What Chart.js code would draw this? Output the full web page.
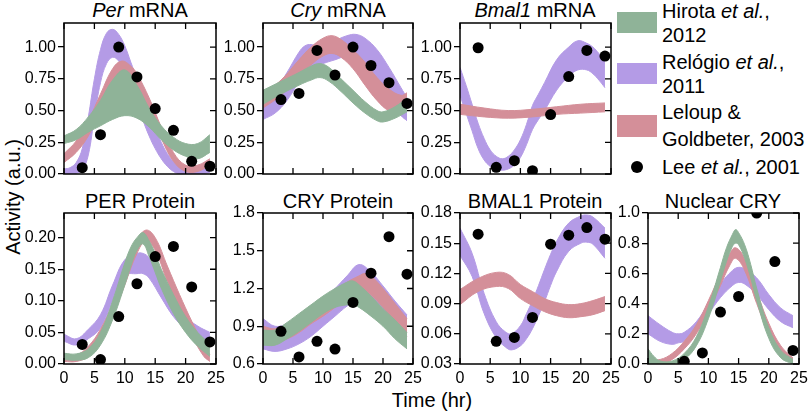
<!DOCTYPE html>
<html>
<head>
<meta charset="utf-8">
<title>Clock model comparison</title>
<script src="https://cdn.jsdelivr.net/npm/chart.js"></script>
<style>
  body { margin: 0; background: #fff; font-family: "Liberation Sans", Arial, sans-serif; }
  #fig { position: relative; width: 810px; height: 413px; overflow: hidden; background: #fff; }
  #fig canvas { position: absolute; }
  .txt { position: absolute; font-size: 20px; line-height: 20px; white-space: nowrap; color: #000; }
  .title { transform: translateX(-50%); }
  .swatch { position: absolute; left: 617px; width: 40px; }
  .dot { position: absolute; width: 12px; height: 12px; border-radius: 50%; background: #000; }
</style>
</head>
<body>
<div id="fig">
  <div class="txt title" style="left:140px;top:0px"><i>Per</i> mRNA</div>
  <div class="txt title" style="left:338px;top:0px"><i>Cry</i> mRNA</div>
  <div class="txt title" style="left:535px;top:0px"><i>Bmal1</i> mRNA</div>
  <div class="txt title" style="left:140px;top:191px">PER Protein</div>
  <div class="txt title" style="left:338px;top:191px">CRY Protein</div>
  <div class="txt title" style="left:535px;top:191px">BMAL1 Protein</div>
  <div class="txt title" style="left:723px;top:191px">Nuclear CRY</div>

  <div class="swatch" style="top:12px;height:21px;background:#8fb398"></div>
  <div class="swatch" style="top:63px;height:21px;background:#b49be6"></div>
  <div class="swatch" style="top:115px;height:22px;background:#d48f99"></div>
  <div class="dot" style="left:631px;top:161px"></div>
  <div class="txt" style="left:662px;top:1px">Hirota <i>et al.</i>,</div>
  <div class="txt" style="left:662px;top:25px">2012</div>
  <div class="txt" style="left:662px;top:52px">Relógio <i>et al.</i>,</div>
  <div class="txt" style="left:662px;top:76px">2011</div>
  <div class="txt" style="left:662px;top:102px">Leloup &amp;</div>
  <div class="txt" style="left:662px;top:129px">Goldbeter, 2003</div>
  <div class="txt" style="left:662px;top:157px">Lee <i>et al.</i>, 2001</div>

  <div class="txt" style="left:13px;top:197px;transform:translate(-50%,-50%) rotate(-90deg)">Activity (a.u.)</div>
  <div class="txt title" style="left:432px;top:390px">Time (hr)</div>
</div>

<script>
// sampling times of the measured points (hr)
const hours = [3, 6, 9, 12, 15, 18, 21, 24];
const xTicks = [0, 5, 10, 15, 20, 25];

// Lee et al. 2001 measurements
const perMrnaDots = [0.05, 0.31, 1.0, 0.765, 0.516, 0.344, 0.10, 0.061];
const cryMrnaDots = [0.587, 0.635, 0.974, 0.78, 1.0, 0.855, 0.72, 0.556];
const bmalMrnaDots = [0.995, 0.053, 0.105, 0.026, 0.468, 0.768, 0.974, 0.929];
const perProtDots = [0.031, 0.007, 0.075, 0.127, 0.17, 0.186, 0.122, 0.035];
const cryProtDots = [0.86, 0.656, 0.78, 0.719, 1.089, 1.322, 1.612, 1.314];
const bmalProtDots = [0.159, 0.0525, 0.0564, 0.0763, 0.149, 0.158, 0.1655, 0.154];
const ncryDots = [null, 0.018, 0.073, 0.344, 0.447, 1.0, 0.678, 0.09];

// model bands: [time, lower, upper]
const perMrnaHirota = [[0,.24,.30],[2,.27,.35],[4,.33,.45],[6,.38,.58],[8,.43,.74],[10,.46,.82],[12,.44,.70],[14,.37,.52],[16,.27,.38],[18,.19,.29],[20,.14,.24],[22,.12,.24],[24,.17,.31]];
const perMrnaRelogio = [[0,0,.04],[1,0,.05],[2,.005,.09],[3,.03,.2],[4,.15,.45],[5,.45,.75],[6,.72,.98],[7,.87,1.11],[8,.92,1.14],[9,.89,1.1],[10,.8,1.01],[11,.68,.88],[12,.55,.75],[13,.42,.61],[14,.3,.48],[15,.2,.36],[16,.12,.25],[17,.06,.16],[18,.02,.1],[19,0,.06],[20,0,.04],[22,0,.04],[24,.01,.07]];
const perMrnaLeloup = [[0,.09,.16],[2,.17,.26],[4,.3,.42],[6,.5,.63],[8,.72,.83],[9.5,.8,.89],[11,.76,.85],[12,.69,.79],[14,.5,.6],[16,.28,.37],[18,.1,.17],[20,.02,.07],[22,.02,.07],[24,.07,.12]];

const cryMrnaHirota = [[0,.55,.66],[3,.63,.73],[6,.7,.8],[8,.74,.85],[9.5,.76,.87],[11,.73,.84],[13,.65,.75],[15,.56,.66],[17,.48,.57],[19,.42,.5],[20,.41,.49],[22,.44,.53],[24,.49,.6]];
const cryMrnaRelogio = [[0,.43,.6],[2,.48,.66],[4,.58,.8],[6,.73,.96],[7,.8,1.01],[8,.83,1.02],[10,.87,1.0],[12,.9,1.05],[14,.93,1.09],[15.5,.92,1.1],[17,.85,1.07],[19,.72,.98],[21,.58,.84],[23,.46,.68],[24,.42,.6]];
const cryMrnaLeloup = [[0,.52,.63],[3,.62,.74],[6,.77,.9],[8,.86,1.0],[10,.93,1.07],[11.5,.95,1.09],[13,.92,1.06],[15,.83,.98],[17,.7,.88],[19,.58,.76],[21,.5,.67],[23,.5,.62],[24,.52,.64]];

const bmalMrnaRelogio = [[0,.62,.84],[1,.48,.7],[2,.34,.55],[3,.2,.4],[4,.11,.28],[5,.06,.19],[6,.035,.14],[7,.03,.12],[8,.04,.14],[9,.07,.19],[10,.13,.27],[11,.23,.39],[12,.35,.54],[13,.43,.63],[14,.5,.72],[16,.66,.9],[18,.77,1.0],[19.5,.82,1.05],[21,.82,1.03],[22,.79,1.0],[23,.74,.95],[24,.68,.9]];
const bmalMrnaLeloup = [[0,.47,.55],[4,.45,.52],[8,.44,.5],[12,.45,.51],[16,.47,.53],[20,.48,.55],[24,.49,.56]];

const perProtHirota = [[0,.007,.017],[2,.006,.016],[4,.01,.024],[6,.03,.05],[8,.07,.1],[10,.125,.16],[11,.155,.185],[12,.18,.2],[13,.19,.208],[14,.17,.195],[15,.145,.175],[16,.12,.15],[18,.08,.11],[20,.05,.075],[22,.028,.05],[24,.012,.032]];
const perProtRelogio = [[0,.036,.047],[2,.03,.04],[4,.04,.055],[6,.057,.078],[8,.1,.125],[10,.14,.165],[12,.143,.175],[13,.143,.175],[14,.136,.168],[16,.105,.135],[18,.075,.1],[20,.055,.075],[22,.04,.06],[24,.032,.05]];
const perProtLeloup = [[0,.004,.014],[2,.004,.014],[4,.012,.028],[6,.035,.055],[8,.075,.095],[10,.125,.145],[12,.175,.195],[13.5,.195,.212],[15,.18,.2],[17,.13,.155],[19,.085,.11],[21,.045,.068],[23,.012,.03],[24,.004,.015]];

const cryProtHirota = [[0,.75,.87],[2,.75,.87],[4,.8,.93],[6,.86,1.0],[8,.93,1.07],[10,1.0,1.14],[12,1.05,1.2],[14,1.07,1.25],[15,1.07,1.26],[16,1.05,1.23],[18,.98,1.14],[20,.9,1.04],[22,.8,.95],[24,.72,.85]];
const cryProtRelogio = [[0,.72,.96],[2,.7,.9],[4,.72,.92],[6,.76,.98],[8,.82,1.05],[10,.9,1.12],[12,.98,1.2],[14,1.06,1.3],[16,1.12,1.39],[18,1.08,1.33],[20,1.0,1.22],[22,.92,1.1],[24,.84,.99]];
const cryProtLeloup = [[0,.8,.9],[2,.78,.88],[4,.8,.92],[6,.85,.97],[8,.92,1.04],[10,.98,1.1],[12,1.05,1.18],[14,1.12,1.25],[16,1.17,1.3],[17,1.18,1.32],[18,1.15,1.3],[20,1.05,1.2],[22,.93,1.08],[24,.82,.96]];

const bmalProtRelogio = [[0,.138,.165],[2,.117,.14],[4,.08,.1],[6,.056,.072],[7.5,.047,.062],[8.5,.044,.06],[10,.048,.068],[11,.055,.08],[12,.065,.093],[13,.078,.108],[14,.092,.124],[15,.108,.139],[16,.122,.152],[18,.142,.17],[20,.15,.177],[21,.151,.178],[22,.149,.176],[24,.135,.165]];
const bmalProtLeloup = [[0,.089,.104],[3,.102,.115],[6,.107,.121],[8,.105,.119],[10,.095,.109],[12,.088,.102],[14,.082,.095],[16,.078,.091],[18,.076,.089],[20,.077,.09],[22,.079,.093],[24,.083,.097]];

const ncryHirota = [[0,0,.1],[1,0,.05],[2,0,.02],[4,0,.02],[6,.03,.07],[8,.12,.18],[10,.3,.38],[12,.55,.64],[13,.68,.77],[14,.78,.86],[14.5,.8,.89],[15,.79,.87],[16,.7,.79],[17,.57,.66],[18,.42,.5],[20,.17,.24],[22,.04,.09],[24,0,.03]];
const ncryRelogio = [[0,.2,.32],[2,.15,.26],[4,.13,.21],[5,.14,.2],[6,.15,.21],[8,.22,.28],[10,.33,.4],[12,.44,.53],[14,.52,.62],[15,.54,.64],[16,.53,.63],[18,.46,.57],[20,.36,.46],[22,.28,.37],[24,.24,.32]];
const ncryLeloup = [[0,0,.03],[2,0,.03],[4,.03,.07],[6,.1,.15],[8,.2,.26],[10,.35,.42],[12,.52,.6],[13.5,.65,.73],[14.5,.7,.77],[16,.62,.7],[18,.4,.48],[20,.2,.27],[22,.06,.12],[24,0,.04]];

// y tick values per panel
const mrnaTicks = [0, 0.25, 0.5, 0.75, 1.0];
const perProtTicks = [0, 0.05, 0.1, 0.15, 0.2];
const cryProtTicks = [0.6, 0.9, 1.2, 1.5, 1.8];
const bmalProtTicks = [0.03, 0.06, 0.09, 0.12, 0.15, 0.18];
const ncryTicks = [0, 0.2, 0.4, 0.6, 0.8, 1.0];

const GREEN = '#8fb398', PURPLE = '#b49be6', PINK = '#d48f99';

// plot-area boxes (px) of the 2x4 grid
const colL = [64, 263, 460, 648], colR = [216, 413, 611, 799];
const rowT = [23, 213], rowB = [174, 364];
const YW = 60, XH = 30, PT = 12, PR = 14;

const panels = [
  { col: 0, row: 0, ymin: 0, ymax: 1.19, ticks: mrnaTicks, dec: 2, dots: perMrnaDots, green: perMrnaHirota, pink: perMrnaLeloup, purple: perMrnaRelogio },
  { col: 1, row: 0, ymin: 0, ymax: 1.19, ticks: mrnaTicks, dec: 2, dots: cryMrnaDots, green: cryMrnaHirota, pink: cryMrnaLeloup, purple: cryMrnaRelogio },
  { col: 2, row: 0, ymin: 0, ymax: 1.19, ticks: mrnaTicks, dec: 2, dots: bmalMrnaDots, green: null, pink: bmalMrnaLeloup, purple: bmalMrnaRelogio },
  { col: 0, row: 1, ymin: 0, ymax: 0.239, ticks: perProtTicks, dec: 2, dots: perProtDots, green: perProtHirota, pink: perProtLeloup, purple: perProtRelogio },
  { col: 1, row: 1, ymin: 0.6, ymax: 1.8, ticks: cryProtTicks, dec: 1, dots: cryProtDots, green: cryProtHirota, pink: cryProtLeloup, purple: cryProtRelogio },
  { col: 2, row: 1, ymin: 0.03, ymax: 0.18, ticks: bmalProtTicks, dec: 2, dots: bmalProtDots, green: null, pink: bmalProtLeloup, purple: bmalProtRelogio },
  { col: 3, row: 1, ymin: 0, ymax: 1.0, ticks: ncryTicks, dec: 1, dots: ncryDots, green: ncryHirota, pink: ncryLeloup, purple: ncryRelogio }
];

// box around the axes plus inward ticks on top, bottom and right
const framePlugin = {
  id: 'frame',
  afterDatasetsDraw(chart) {
    const { ctx, chartArea: a, scales } = chart;
    const tl = 6;
    ctx.save();
    ctx.strokeStyle = '#000';
    ctx.lineWidth = 1.3;
    ctx.beginPath();
    scales.x.ticks.forEach(t => {
      const px = scales.x.getPixelForValue(t.value);
      ctx.moveTo(px, a.top); ctx.lineTo(px, a.top + tl);
      ctx.moveTo(px, a.bottom); ctx.lineTo(px, a.bottom - tl);
    });
    scales.y.ticks.forEach(t => {
      const py = scales.y.getPixelForValue(t.value);
      ctx.moveTo(a.right, py); ctx.lineTo(a.right - tl, py);
    });
    ctx.stroke();
    ctx.lineWidth = 1.5;
    ctx.strokeRect(a.left, a.top, a.right - a.left, a.bottom - a.top);
    ctx.restore();
  }
};

Chart.defaults.font.family = '"Liberation Sans", Arial, sans-serif';
Chart.defaults.color = '#000';

function bandSets(band, color, order) {
  if (!band) return [];
  const common = { borderColor: color, borderWidth: 1, pointRadius: 0, pointHoverRadius: 0, tension: 0.4, order: order };
  return [
    Object.assign({ data: band.map(r => ({ x: r[0], y: r[1] })), fill: false }, common),
    Object.assign({ data: band.map(r => ({ x: r[0], y: r[2] })), fill: '-1', backgroundColor: color }, common)
  ];
}

const fig = document.getElementById('fig');

panels.forEach(p => {
  const L = colL[p.col], R = colR[p.col], T = rowT[p.row], B = rowB[p.row];
  const w = (R - L) + YW + PR, h = (B - T) + PT + XH;
  const cv = document.createElement('canvas');
  cv.width = w; cv.height = h;
  cv.style.left = (L - YW) + 'px';
  cv.style.top = (T - PT) + 'px';
  cv.style.width = w + 'px';
  cv.style.height = h + 'px';
  fig.appendChild(cv);

  const datasets = [{
    type: 'scatter',
    data: hours.map((t, i) => ({ x: t, y: p.dots[i] })),
    pointRadius: 5.5, pointHoverRadius: 5.5,
    backgroundColor: '#000', borderWidth: 0, order: 0
  }].concat(bandSets(p.green, GREEN, 1), bandSets(p.pink, PINK, 2), bandSets(p.purple, PURPLE, 3));

  new Chart(cv, {
    type: 'line',
    data: { datasets: datasets },
    options: {
      responsive: false,
      animation: false,
      events: [],
      layout: { padding: { top: PT, right: PR, left: 0, bottom: 0 } },
      plugins: { legend: { display: false }, tooltip: { enabled: false } },
      scales: {
        x: {
          type: 'linear', min: 0, max: 25,
          afterBuildTicks: s => { s.ticks = xTicks.map(v => ({ value: v })); },
          afterFit: s => { s.height = XH; },
          grid: { drawOnChartArea: false, drawTicks: false },
          border: { display: false },
          ticks: { display: p.row === 1, padding: 5, autoSkip: false, maxRotation: 0, font: { size: 16 } }
        },
        y: {
          min: p.ymin, max: p.ymax,
          afterBuildTicks: s => { s.ticks = p.ticks.map(v => ({ value: v })); },
          afterFit: s => { s.width = YW; },
          grid: { drawOnChartArea: false, drawTicks: true, tickLength: 6, color: '#000', lineWidth: 1.3 },
          border: { display: false },
          ticks: { padding: 2, font: { size: 16 }, callback: v => Number(v).toFixed(p.dec) }
        }
      }
    },
    plugins: [framePlugin]
  });
});
</script>
</body>
</html>
